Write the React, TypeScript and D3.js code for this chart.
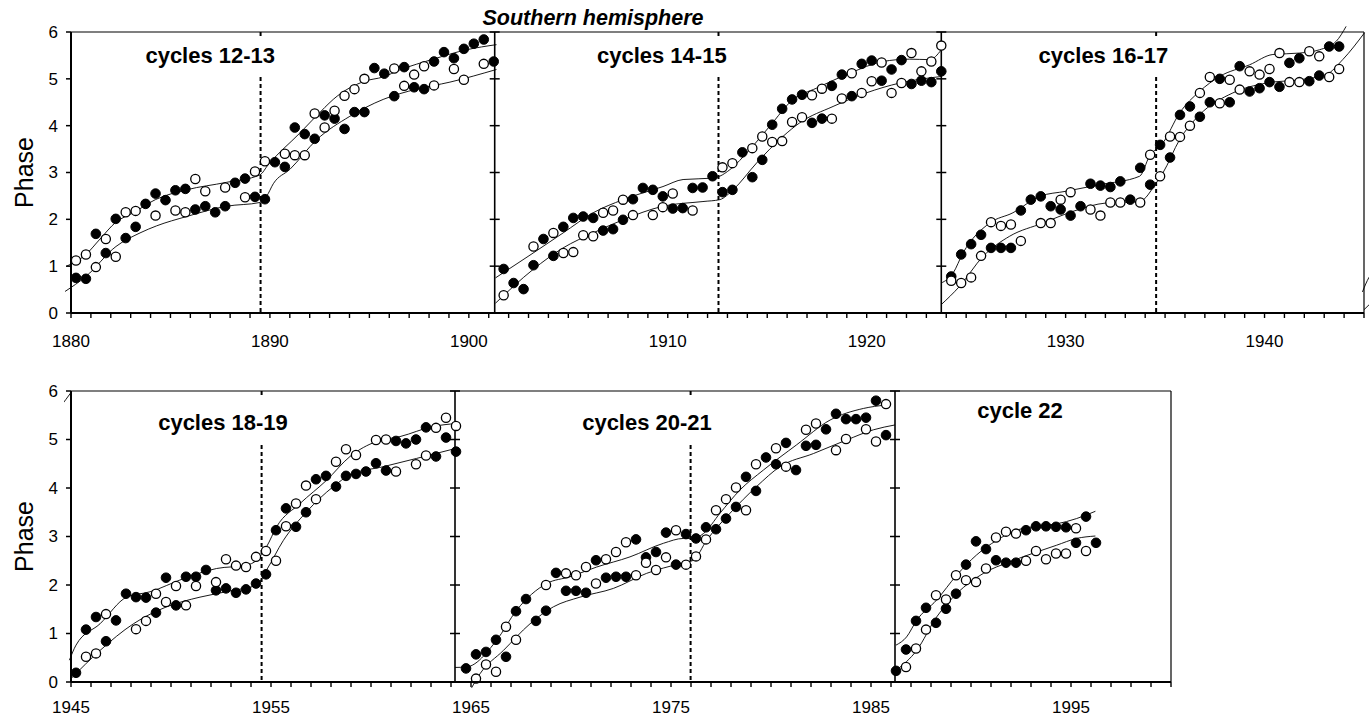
import * as d3 from 'd3'

// sampling: one value every half year
const STEP = 0.5

// ---- top row (cycles 12-17) ----
const p1Start = 1880.25
const p1Filled = [0.75, 0.73, 1.69, 1.28, 2.01, 1.6, 1.84, 2.33, 2.55, 2.41, 2.62, 2.65, 2.21, 2.28, 2.15, 2.28, 2.78, 2.87, 2.48, 2.43, 3.22, 3.12, 3.96, 3.82, 3.72, 4.22, 4.15, 3.93, 4.29, 4.29, 5.23, 5.11, 4.63, 5.25, 4.82, 4.78, 5.37, 5.57, 5.44, 5.64, 5.75, 5.84, 5.37]
const p1Open = [1.12, 1.25, 0.98, 1.58, 1.2, 2.15, 2.18, null, 2.08, null, 2.19, 2.15, 2.86, 2.6, null, 2.68, null, 2.47, 3.02, 3.24, null, 3.4, 3.37, 3.37, 4.26, 3.96, 4.32, 4.64, 4.78, 5.0, null, null, 5.22, 4.85, 5.09, 5.27, 4.86, null, 5.21, 4.98, null, 5.32, null]

const p2Start = 1901.75
const p2Filled = [0.94, 0.64, 0.51, 1.02, 1.58, 1.22, 1.84, 2.03, 2.06, 2.03, 1.76, 1.79, 1.99, 2.43, 2.67, 2.63, 2.49, 2.23, 2.24, 2.67, 2.68, 2.92, 2.58, 2.63, 3.43, 2.9, 3.27, 4.02, 4.36, 4.56, 4.66, 4.06, 4.15, 4.85, 5.09, 4.63, 5.32, 5.39, 4.96, 5.2, 5.4, 4.89, 4.96, 4.93, 5.16]
const p2Open = [0.38, null, null, 1.42, null, 1.71, 1.28, 1.3, 1.66, 1.64, 2.14, 2.19, 2.42, 2.09, null, 2.09, 2.26, 2.55, null, 2.19, null, null, 3.11, 3.2, null, 3.52, 3.77, 3.65, 3.67, 4.08, 4.18, 4.65, 4.79, 4.15, 4.58, 5.12, 4.7, 4.95, 5.35, 4.7, 4.91, 5.55, 5.16, 5.37, 5.71]

const p3Start = 1924.25
const p3Filled = [0.78, 1.25, 1.47, 1.67, 1.39, 1.39, 1.39, 2.19, 2.42, 2.49, 2.28, 2.21, 2.08, 2.28, 2.76, 2.72, 2.69, 2.81, 2.42, 3.1, 2.74, 3.59, 3.32, 4.23, 4.41, 4.19, 4.5, 5.0, 4.5, 5.27, 4.73, 4.8, 4.93, 4.83, 5.34, 5.44, 4.95, 5.07, 5.69, 5.69]
const p3Open = [0.69, 0.64, 0.76, 1.22, 1.94, 1.86, 1.89, 1.54, null, 1.92, 1.92, 2.42, 2.58, null, 2.21, 2.08, 2.36, 2.36, null, 2.36, 3.38, 2.92, 3.77, 3.76, 4.0, 4.7, 5.04, 4.48, 4.98, 4.77, 5.16, 5.09, 5.21, 5.55, 4.93, 4.93, 5.59, 5.48, 5.04, 5.21]

// ---- bottom row (cycles 18-22) ----
const p4Start = 1945.25
const p4Filled = [0.19, 1.08, 1.34, 0.84, 1.27, 1.82, 1.75, 1.74, 1.43, 2.15, 1.58, 2.17, 2.17, 2.31, 1.89, 1.93, 1.84, 1.91, 2.03, 2.22, 3.13, 3.58, 3.2, 3.5, 4.18, 4.25, 4.03, 4.25, 4.29, 4.34, 4.51, 4.36, 4.97, 4.92, 5.0, 5.25, 4.65, 5.04, 4.75]
const p4Open = [null, 0.52, 0.59, 1.4, null, null, 1.09, 1.26, 1.82, 1.65, 1.98, 1.58, 1.98, null, 2.06, 2.53, 2.4, 2.37, 2.58, 2.7, 2.5, 3.21, 3.68, 4.05, 3.77, null, 4.54, 4.8, 4.68, null, 4.99, 5.0, 4.34, null, 4.49, 4.67, 5.24, 5.45, 5.28]

const p5Start = 1964.75
const p5Filled = [0.28, 0.57, 0.62, 0.87, 0.52, 1.46, 1.71, 1.26, 1.47, 2.25, 1.88, 1.88, 1.84, 2.51, 2.15, 2.17, 2.17, 2.94, 2.57, 2.68, 3.08, 2.42, 3.05, 2.96, 3.19, 3.15, 3.37, 3.61, 4.23, 3.94, 4.63, 4.49, 4.93, 4.37, 4.87, 4.89, 5.21, 5.53, 5.42, 5.42, 5.45, 5.8, 5.09]
const p5Open = [null, 0.07, 0.36, 0.21, 1.14, 0.87, null, null, 2.0, null, 2.24, 2.2, 2.37, 2.03, 2.53, 2.68, 2.88, 2.2, 2.46, 2.31, 2.57, 3.13, 2.42, 2.59, 2.94, 3.54, 3.77, 4.01, 3.54, 4.49, null, 4.82, 4.44, null, 5.2, 5.33, null, 4.78, 5.01, null, 5.21, 4.96, 5.73]

const p6Start = 1986.25
const p6Filled = [0.23, 0.67, 1.26, 1.53, 1.22, 1.51, 1.82, 2.42, 2.9, 2.74, 2.51, 2.46, 2.46, 3.13, 3.21, 3.21, 3.2, 3.19, 2.87, 3.41, 2.87]
const p6Open = [null, 0.31, 0.69, 1.08, 1.79, 1.7, 2.2, 2.1, 2.06, 2.34, 2.98, 3.1, 3.06, 2.5, 2.7, 2.53, 2.65, 2.65, 3.17, 2.7, null]

// smoothed curves [year, phase]
const c1Upper = [[1879.78, 1.0], [1880.75, 1.25], [1881.46, 1.58], [1882.26, 1.94], [1883.13, 2.14], [1884.24, 2.42], [1885.81, 2.63], [1887.82, 2.79], [1889.5, 2.95], [1889.92, 3.17], [1891.5, 3.84], [1892.76, 4.39], [1893.18, 4.56], [1894.77, 4.95], [1895.69, 5.04], [1896.53, 5.19], [1898.21, 5.42], [1899.88, 5.62], [1901.39, 5.73]]
const c1Lower = [[1879.7, 0.46], [1880.75, 0.78], [1882.26, 1.42], [1883.47, 1.71], [1884.3, 1.86], [1885.81, 2.06], [1887.82, 2.28], [1889.5, 2.36], [1889.83, 2.49], [1890.17, 2.76], [1891.01, 3.07], [1892.35, 3.7], [1894.02, 4.2], [1895.69, 4.56], [1897.37, 4.78], [1899.05, 4.93], [1901.39, 5.2]]
const c2Upper = [[1901.34, 0.75], [1903.23, 1.28], [1904.74, 1.71], [1906.25, 2.14], [1907.75, 2.42], [1909.76, 2.7], [1910.77, 2.85], [1912.28, 2.88], [1912.61, 2.92], [1913.12, 3.06], [1914.12, 3.49], [1915.13, 3.99], [1916.3, 4.56], [1917.47, 4.8], [1919.15, 5.12], [1920.82, 5.37], [1922.16, 5.42], [1923.17, 5.41], [1923.75, 5.62]]
const c2Lower = [[1901.34, 0.21], [1903.23, 0.93], [1904.74, 1.39], [1906.25, 1.71], [1907.75, 1.99], [1909.76, 2.28], [1911.77, 2.38], [1912.61, 2.42], [1913.28, 2.63], [1914.46, 3.2], [1915.79, 3.77], [1916.63, 4.06], [1918.31, 4.41], [1919.98, 4.7], [1921.66, 4.91], [1923.75, 5.05]]
const c3Upper = [[1923.75, 0.64], [1924.34, 0.85], [1924.84, 1.28], [1926.18, 1.92], [1927.35, 2.14], [1928.69, 2.49], [1930.03, 2.6], [1931.71, 2.74], [1933.72, 2.92], [1934.22, 3.35], [1934.89, 3.63], [1935.73, 4.27], [1936.73, 4.73], [1937.74, 5.05], [1939.25, 5.3], [1940.42, 5.52], [1941.76, 5.55], [1942.76, 5.62], [1943.6, 5.8], [1944.1, 6.12]]
const c3Lower = [[1923.75, 0.18], [1924.67, 0.57], [1925.85, 1.21], [1927.19, 1.64], [1928.86, 1.92], [1930.37, 2.17], [1932.05, 2.35], [1933.72, 2.38], [1934.56, 2.78], [1934.89, 2.99], [1935.73, 3.7], [1936.73, 4.23], [1938.41, 4.7], [1940.09, 4.91], [1941.76, 4.98], [1943.1, 5.09], [1943.93, 5.41], [1945.02, 5.98]]
const c4Upper = [[1944.92, 0.45], [1945.25, 0.76], [1946.45, 1.2], [1947.78, 1.75], [1948.95, 1.86], [1950.62, 2.13], [1952.28, 2.34], [1953.78, 2.41], [1954.28, 2.51], [1954.78, 2.79], [1955.28, 3.2], [1956.45, 3.68], [1957.78, 4.16], [1958.95, 4.65], [1960.28, 4.96], [1961.45, 5.06], [1963.12, 5.27], [1964.28, 5.33]]
const c4Lower = [[1945.0, 0.07], [1946.45, 0.65], [1948.12, 1.2], [1949.78, 1.55], [1951.45, 1.75], [1953.12, 1.89], [1954.28, 2.0], [1954.78, 2.31], [1955.62, 2.92], [1956.78, 3.51], [1958.12, 4.03], [1958.95, 4.27], [1960.62, 4.44], [1962.28, 4.61], [1964.28, 4.82]]
const c5Upper = [[1964.2, 0.3], [1964.78, 0.31], [1966.28, 0.86], [1967.28, 1.48], [1968.78, 2.03], [1969.95, 2.17], [1971.28, 2.37], [1972.95, 2.58], [1974.62, 2.86], [1975.62, 2.96], [1976.12, 2.96], [1976.62, 3.06], [1977.45, 3.48], [1978.45, 3.96], [1979.62, 4.37], [1981.28, 4.89], [1982.95, 5.4], [1984.62, 5.64], [1985.72, 5.71]]
const c5Lower = [[1965.03, -0.12], [1965.45, 0.17], [1966.62, 0.65], [1967.95, 1.2], [1969.12, 1.55], [1970.45, 1.75], [1972.12, 1.93], [1973.78, 2.24], [1975.45, 2.44], [1976.12, 2.51], [1976.78, 2.92], [1977.95, 3.48], [1979.28, 4.03], [1980.45, 4.44], [1982.12, 4.71], [1983.78, 4.99], [1985.12, 5.2], [1986.2, 5.3]]
const c6Upper = [[1986.25, 0.76], [1986.78, 0.93], [1987.28, 1.27], [1988.28, 1.69], [1989.28, 2.2], [1990.28, 2.62], [1991.28, 2.92], [1992.28, 3.13], [1993.28, 3.21], [1994.28, 3.26], [1995.28, 3.37], [1996.22, 3.52]]
const c6Lower = [[1986.25, 0.24], [1987.28, 0.65], [1988.28, 1.34], [1989.28, 1.82], [1990.62, 2.24], [1991.95, 2.48], [1993.28, 2.68], [1994.28, 2.82], [1995.28, 2.96], [1996.22, 3.01]]

const allCurves = [c1Upper, c1Lower, c2Upper, c2Lower, c3Upper, c3Lower, c4Upper, c4Lower, c5Upper, c5Lower, c6Upper, c6Lower]

const phaseTicks = [0, 1, 2, 3, 4, 5, 6]
const topYearLabels = [1880, 1890, 1900, 1910, 1920, 1930, 1940]
const bottomYearLabels = [1945, 1955, 1965, 1975, 1985, 1995]

const topBounds = [1901.3, 1923.75]
const bottomBounds = [1964.2, 1986.2]
const topMinima = [1889.53, 1912.55, 1934.55]
const bottomMinima = [1954.53, 1975.98]

const topTitles = [
  { text: 'cycles 12-13', year: 1887 },
  { text: 'cycles 14-15', year: 1909.7 },
  { text: 'cycles 16-17', year: 1931.9 },
]
const bottomTitles = [
  { text: 'cycles 18-19', year: 1952.6, dy: 0 },
  { text: 'cycles 20-21', year: 1973.8, dy: 0 },
  { text: 'cycle 22', year: 1992.45, dy: -12 },
]

const FONT = "'Liberation Sans', Arial, sans-serif"

const toPoints = (start: number, vals: (number | null)[]) =>
  vals
    .map((v, i) => ({ year: start + STEP * i, v }))
    .filter((d) => d.v !== null) as { year: number; v: number }[]

const topSeries = [
  { filled: toPoints(p1Start, p1Filled), open: toPoints(p1Start, p1Open) },
  { filled: toPoints(p2Start, p2Filled), open: toPoints(p2Start, p2Open) },
  { filled: toPoints(p3Start, p3Filled), open: toPoints(p3Start, p3Open) },
]
const bottomSeries = [
  { filled: toPoints(p4Start, p4Filled), open: toPoints(p4Start, p4Open) },
  { filled: toPoints(p5Start, p5Filled), open: toPoints(p5Start, p5Open) },
  { filled: toPoints(p6Start, p6Filled), open: toPoints(p6Start, p6Open) },
]

type RowProps = {
  id: string
  x: d3.ScaleLinear<number, number>
  y: d3.ScaleLinear<number, number>
  bounds: number[]
  minima: number[]
  series: { filled: { year: number; v: number }[]; open: { year: number; v: number }[] }[]
  yearLabels: number[]
  titles: { text: string; year: number; dy?: number }[]
  titleBase: number
  dashTop: number
  labelBase: number
  clip: [number, number, number, number]
}

const Row = ({ id, x, y, bounds, minima, series, yearLabels, titles, titleBase, dashTop, labelBase, clip }: RowProps) => {
  const [x0, x1] = x.range()
  const [yb, yt] = y.range()
  const [d0, d1] = x.domain()
  const years = d3.range(Math.ceil(d0), Math.floor(d1) + 1)
  const line = d3
    .line<number[]>()
    .x((d) => x(d[0]))
    .y((d) => y(d[1]))
    .curve(d3.curveMonotoneX)

  return (
    <g>
      <defs>
        <clipPath id={id}>
          <rect x={clip[0]} y={clip[1]} width={clip[2] - clip[0]} height={clip[3] - clip[1]} />
        </clipPath>
      </defs>

      {/* frame */}
      <line x1={x0} x2={x1} y1={yt} y2={yt} stroke="#000" strokeWidth={1.2} />
      <line x1={x1} x2={x1} y1={yt} y2={yb} stroke="#000" strokeWidth={1.2} />

      {/* cycle minima */}
      {minima.map((m) => (
        <g key={m}>
          <line x1={x(m)} x2={x(m)} y1={yt} y2={yt + 4} stroke="#000" strokeWidth={2} />
          <line x1={x(m)} x2={x(m)} y1={dashTop} y2={yb} stroke="#000" strokeWidth={2} strokeDasharray="4,3" />
        </g>
      ))}

      {/* panel boundaries */}
      {bounds.map((b) => (
        <g key={b}>
          <line x1={x(b)} x2={x(b)} y1={yt} y2={yb} stroke="#000" strokeWidth={1.6} />
          {phaseTicks.slice(1).map((t) => (
            <line key={t} x1={x(b) - 5} x2={x(b) + 5} y1={y(t)} y2={y(t)} stroke="#000" strokeWidth={1.5} />
          ))}
        </g>
      ))}

      {/* fitted curves */}
      <g clipPath={`url(#${id})`}>
        {allCurves.map((c, i) => (
          <path key={i} d={line(c) || ''} fill="none" stroke="#000" strokeWidth={0.9} />
        ))}
      </g>

      {/* data points */}
      {series.map((s, i) => (
        <g key={i}>
          {s.filled.map((d, j) => (
            <circle key={'f' + j} cx={x(d.year)} cy={y(d.v)} r={4.8} fill="#000" stroke="#000" strokeWidth={1} />
          ))}
          {s.open.map((d, j) => (
            <circle key={'o' + j} cx={x(d.year)} cy={y(d.v)} r={4.6} fill="#fff" stroke="#000" strokeWidth={1.3} />
          ))}
        </g>
      ))}

      {/* y axis */}
      <line x1={x0} x2={x0} y1={yt} y2={yb} stroke="#000" strokeWidth={2} />
      {phaseTicks.map((t) => (
        <g key={t}>
          <line x1={x0 - 5} x2={x0} y1={y(t)} y2={y(t)} stroke="#000" strokeWidth={1.5} />
          <text x={x0 - 13} y={y(t)} dy="0.35em" textAnchor="end" fontSize={17} fontFamily={FONT}>
            {t}
          </text>
        </g>
      ))}
      <text
        transform={`translate(33,${(yt + yb) / 2}) rotate(-90)`}
        textAnchor="middle"
        fontSize={25}
        fontFamily={FONT}
      >
        Phase
      </text>

      {/* x axis */}
      <line x1={x0} x2={x1} y1={yb} y2={yb} stroke="#000" strokeWidth={2} />
      {years.map((yr) => (
        <line key={yr} x1={x(yr)} x2={x(yr)} y1={yb} y2={yb + 5} stroke="#000" strokeWidth={1.4} />
      ))}
      {yearLabels.map((yr) => (
        <text key={yr} x={x(yr)} y={labelBase} textAnchor="middle" fontSize={17} fontFamily={FONT}>
          {yr}
        </text>
      ))}

      {/* panel titles */}
      {titles.map((t) => (
        <text
          key={t.text}
          x={x(t.year)}
          y={titleBase + (t.dy || 0)}
          textAnchor="middle"
          fontSize={22}
          fontWeight="bold"
          fontFamily={FONT}
        >
          {t.text}
        </text>
      ))}
    </g>
  )
}

export default function App() {
  const topX = d3.scaleLinear().domain([1880, 1945]).range([71, 1364])
  const topY = d3.scaleLinear().domain([0, 6]).range([313, 32])
  const botX = d3.scaleLinear().domain([1945, 2000]).range([71, 1171])
  const botY = d3.scaleLinear().domain([0, 6]).range([682, 391])

  return (
    <svg
      width={1369}
      height={720}
      style={{ position: 'absolute', left: 0, top: 0, background: '#fff' }}
    >
      <rect width={1369} height={720} fill="#fff" />
      <text
        x={593}
        y={25}
        textAnchor="middle"
        fontSize={21.5}
        fontWeight="bold"
        fontStyle="italic"
        fontFamily={FONT}
      >
        Southern hemisphere
      </text>
      <Row
        id="clipTop"
        x={topX}
        y={topY}
        bounds={topBounds}
        minima={topMinima}
        series={topSeries}
        yearLabels={topYearLabels}
        titles={topTitles}
        titleBase={63}
        dashTop={77}
        labelBase={347}
        clip={[64, 0, 1369, 320]}
      />
      <Row
        id="clipBottom"
        x={botX}
        y={botY}
        bounds={bottomBounds}
        minima={bottomMinima}
        series={bottomSeries}
        yearLabels={bottomYearLabels}
        titles={bottomTitles}
        titleBase={430}
        dashTop={445}
        labelBase={713}
        clip={[64, 380, 1175, 690]}
      />
    </svg>
  )
}
